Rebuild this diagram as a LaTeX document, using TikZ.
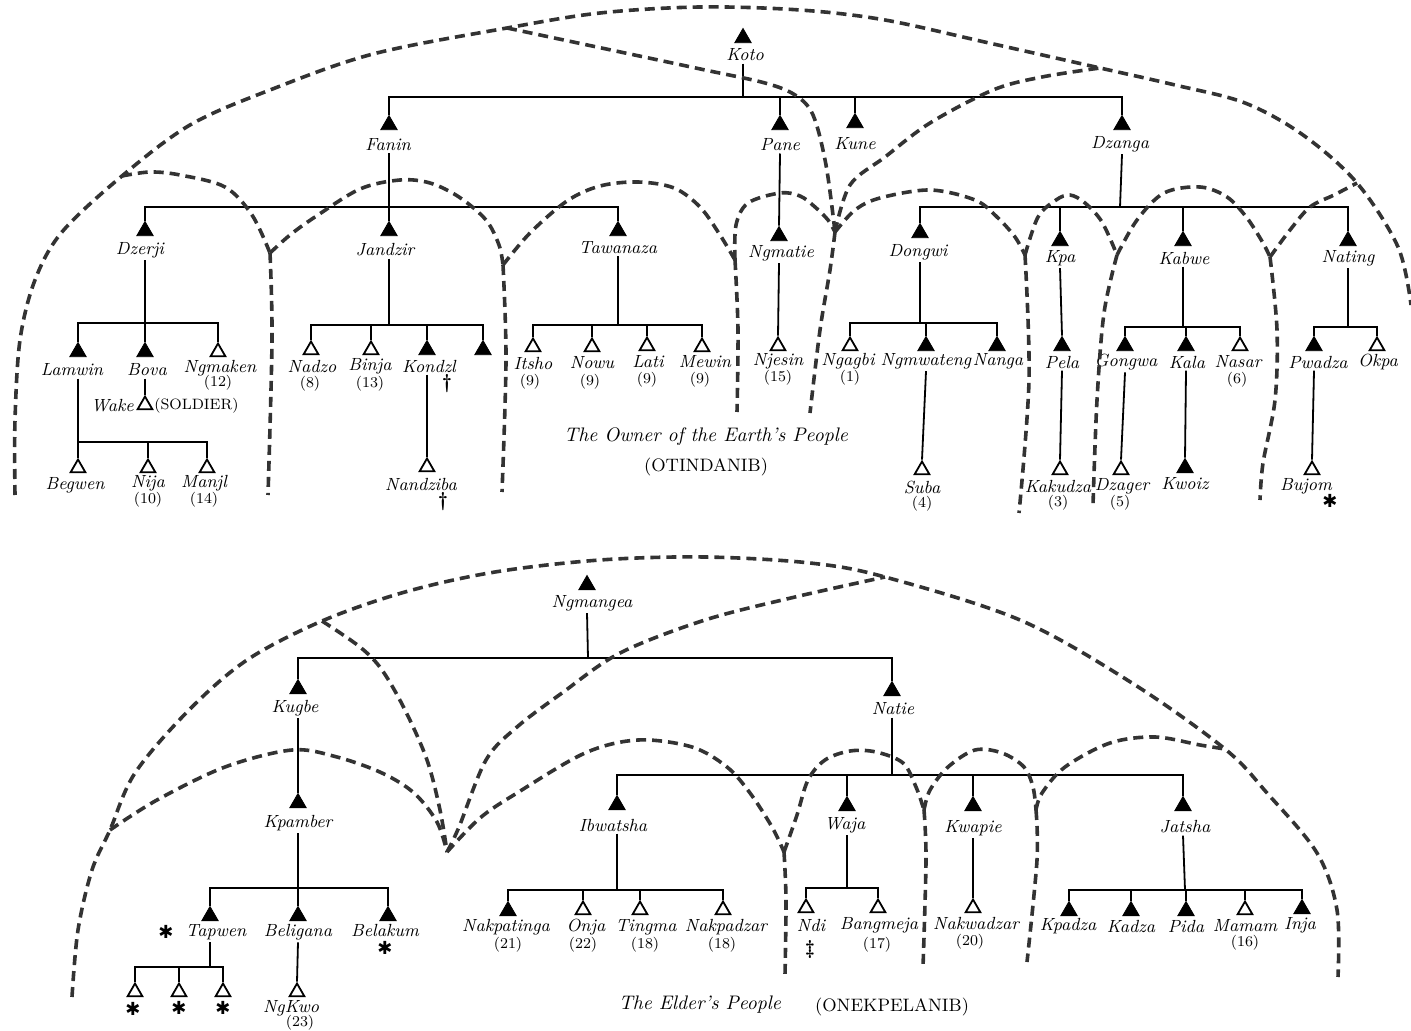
\documentclass[tikz,border=0pt]{standalone}
\usepackage{fontspec}
\usepackage{tikz}
\usetikzlibrary{shapes.geometric}
\newfontfamily\markfont{DejaVu Sans}
\tikzset{
    dead/.style = {regular polygon, regular polygon sides=3, draw=black, fill=black, inner sep=0pt, minimum size=9.5pt},
    alive/.style = {regular polygon, regular polygon sides=3, draw=black, fill=white, line width=0.9pt, inner sep=0pt, minimum size=8.5pt},
    pname/.style = {font=\fontsize{8.8}{10}\selectfont\itshape, inner sep=1pt},
    count/.style = {font=\fontsize{7.5}{8}\selectfont, inner sep=0.5pt},
    sym/.style = {font=\markfont\fontsize{9}{10}\selectfont, inner sep=0pt},
    cross/.style = {font=\fontsize{10}{11}\selectfont\bfseries, inner sep=0pt},
    descent/.style = {line width=0.9pt},
    kin/.style = {draw=black!80, line width=1.8pt, dash pattern=on 5pt off 3pt},
    caption/.style = {font=\fontsize{9.8}{12}\selectfont\itshape},
    tag/.style = {font=\fontsize{9}{10}\selectfont},
}

\begin{document}
\begin{tikzpicture}[x=0.5pt, y=-0.5pt]
\useasboundingbox (0,0) rectangle (1411,1031);

% ---------- The Owner of the Earth's People ----------
\node[dead] (koto) at (743,38) {};
\node[pname] (koto-n) at (745,55) {Koto};

\node[dead] (fanin) at (389,125) {};  \node[pname] (fanin-n) at (388,145) {Fanin};
\node[dead] (pane) at (780,125) {};   \node[pname] (pane-n) at (780,145) {Pane};
\node[dead] (kune) at (855,123) {};   \node[pname] (kune-n) at (855,144) {Kune};
\node[dead] (dzanga) at (1122,125) {}; \node[pname] (dzanga-n) at (1120,144) {Dzanga};

\node[dead] (dzerji) at (145,231) {};   \node[pname] (dzerji-n) at (140,250) {Dzerji};
\node[dead] (jandzir) at (389,231) {};  \node[pname] (jandzir-n) at (385,250) {Jandzir};
\node[dead] (tawanaza) at (618,231) {}; \node[pname] (tawanaza-n) at (618,248) {Tawanaza};
\node[dead] (ngmatie) at (779,236) {};  \node[pname] (ngmatie-n) at (781,253) {Ngmatie};
\node[dead] (dongwi) at (920,233) {};   \node[pname] (dongwi-n) at (918,252) {Dongwi};
\node[dead] (kpa) at (1060,241) {};     \node[pname] (kpa-n) at (1060,258) {Kpa};
\node[dead] (kabwe) at (1183,241) {};   \node[pname] (kabwe-n) at (1184,258) {Kabwe};
\node[dead] (nating) at (1348,241) {};  \node[pname] (nating-n) at (1348,258) {Nating};

\node[dead] (lamwin) at (78,352) {};   \node[pname] (lamwin-n) at (72,370) {Lamwin};
\node[dead] (bova) at (145,352) {};    \node[pname] (bova-n) at (147,370) {Bova};
\node[alive] (ngmaken) at (218,352) {}; \node[pname] (ngmaken-n) at (220,368) {Ngmaken};
\node[count] (ngmaken-c) at (218,383) {(12)};
\node[alive] (wake) at (145,405) {};
\node[pname, anchor=east] (wake-n) at (136,406) {Wake};
\node[count, anchor=west] (wake-c) at (153,406) {(SOLDIER)};
\node[alive] (begwen) at (78,468) {};  \node[pname] (begwen-n) at (75,485) {Begwen};
\node[alive] (nija) at (148,468) {};   \node[pname] (nija-n) at (148,483) {Nija};
\node[count] (nija-c) at (148,500) {(10)};
\node[alive] (manjl) at (207,468) {};  \node[pname] (manjl-n) at (204,483) {Manjl};
\node[count] (manjl-c) at (204,500) {(14)};

\node[alive] (nadzo) at (311,350) {};  \node[pname] (nadzo-n) at (312,366) {Nadzo};
\node[count] (nadzo-c) at (310,384) {(8)};
\node[alive] (binja) at (371,350) {};  \node[pname] (binja-n) at (370,366) {Binja};
\node[count] (binja-c) at (370,384) {(13)};
\node[dead] (kondzl) at (427,350) {};  \node[pname] (kondzl-n) at (429,366) {Kondzl};
\node[cross] (kondzl-d) at (447,384) {\textdagger};
\node[dead] (jandzir-4) at (483,350) {};
\node[alive] (nandziba) at (427,467) {}; \node[pname] (nandziba-n) at (421,484) {Nandziba};
\node[cross] (nandziba-d) at (443,502) {\textdagger};

\node[alive] (itsho) at (533,347) {};  \node[pname] (itsho-n) at (533,363) {Itsho};
\node[count] (itsho-c) at (530,382) {(9)};
\node[alive] (nowu) at (592,347) {};   \node[pname] (nowu-n) at (592,363) {Nowu};
\node[count] (nowu-c) at (590,382) {(9)};
\node[alive] (lati) at (647,346) {};   \node[pname] (lati-n) at (648,362) {Lati};
\node[count] (lati-c) at (647,380) {(9)};
\node[alive] (mewin) at (702,347) {};  \node[pname] (mewin-n) at (705,362) {Mewin};
\node[count] (mewin-c) at (700,380) {(9)};

\node[alive] (njesin) at (778,346) {}; \node[pname] (njesin-n) at (778,361) {Njesin};
\node[count] (njesin-c) at (778,378) {(15)};

\node[alive] (ngagbi) at (850,346) {};  \node[pname] (ngagbi-n) at (848,361) {Ngagbi};
\node[count] (ngagbi-c) at (850,378) {(1)};
\node[dead] (ngmwateng) at (926,346) {}; \node[pname] (ngmwateng-n) at (926,361) {Ngmwateng};
\node[dead] (nanga) at (997,346) {};    \node[pname] (nanga-n) at (998,361) {Nanga};
\node[alive] (suba) at (922,470) {};    \node[pname] (suba-n) at (922,487) {Suba};
\node[count] (suba-c) at (922,504) {(4)};

\node[dead] (pela) at (1062,346) {};    \node[pname] (pela-n) at (1062,362) {Pela};
\node[alive] (kakudza) at (1060,470) {}; \node[pname] (kakudza-n) at (1058,486) {Kakudza};
\node[count] (kakudza-c) at (1058,503) {(3)};

\node[dead] (gongwa) at (1125,346) {};  \node[pname] (gongwa-n) at (1126,362) {Gongwa};
\node[dead] (kala) at (1186,346) {};    \node[pname] (kala-n) at (1187,362) {Kala};
\node[alive] (nasar) at (1240,346) {};  \node[pname] (nasar-n) at (1238,362) {Nasar};
\node[count] (nasar-c) at (1237,380) {(6)};
\node[alive] (dzager) at (1121,470) {}; \node[pname] (dzager-n) at (1122,486) {Dzager};
\node[count] (dzager-c) at (1120,503) {(5)};
\node[dead] (kwoiz) at (1185,468) {};   \node[pname] (kwoiz-n) at (1185,484) {Kwoiz};

\node[dead] (pwadza) at (1314,346) {};  \node[pname] (pwadza-n) at (1318,362) {Pwadza};
\node[alive] (okpa) at (1377,346) {};   \node[pname] (okpa-n) at (1378,362) {Okpa};
\node[alive] (bujom) at (1312,470) {};  \node[pname] (bujom-n) at (1306,486) {Bujom};
\node[sym] (bujom-m) at (1330,501) {✱};

\node[caption] (otin-t) at (706,437) {The Owner of the Earth's People};
\node[tag] (otin) at (706,467) {(OTINDANIB)};

% descent lines
\coordinate (kotoBar) at (743,97);
\draw[descent] (koto |- koto-n.south) -- (kotoBar);
\draw[descent] (fanin.north) |- (kotoBar) -| (dzanga.north);
\draw[descent] (pane.north) -- (pane.north |- kotoBar);
\draw[descent] (kune.north) -- (kune.north |- kotoBar);

\coordinate (faninBar) at (389,207);
\draw[descent] (fanin |- fanin-n.south) -- (faninBar);
\draw[descent] (dzerji.north) |- (faninBar) -| (tawanaza.north);
\draw[descent] (jandzir.north) -- (jandzir.north |- faninBar);

\draw[descent] (pane |- pane-n.south) -- (ngmatie.north);
\draw[descent] (ngmatie |- ngmatie-n.south) -- (njesin.north);

\coordinate (dzangaBar) at (1120,207);
\draw[descent] (dzanga |- dzanga-n.south) -- (dzangaBar);
\draw[descent] (dongwi.north) |- (dzangaBar) -| (nating.north);
\draw[descent] (kpa.north) -- (kpa.north |- dzangaBar);
\draw[descent] (kabwe.north) -- (kabwe.north |- dzangaBar);

\coordinate (dzerjiBar) at (145,323);
\draw[descent] (dzerji |- dzerji-n.south) -- (dzerjiBar);
\draw[descent] (lamwin.north) |- (dzerjiBar) -| (ngmaken.north);
\draw[descent] (bova.north) -- (bova.north |- dzerjiBar);
\draw[descent] (bova |- bova-n.south) -- (wake.north);

\coordinate (lamwinBar) at (78,442);
\draw[descent] (lamwin |- lamwin-n.south) -- (lamwinBar);
\draw[descent] (begwen.north) |- (lamwinBar) -| (manjl.north);
\draw[descent] (nija.north) -- (nija.north |- lamwinBar);

\coordinate (jandzirBar) at (389,325);
\draw[descent] (jandzir |- jandzir-n.south) -- (jandzirBar);
\draw[descent] (nadzo.north) |- (jandzirBar) -| (jandzir-4.north);
\draw[descent] (binja.north) -- (binja.north |- jandzirBar);
\draw[descent] (kondzl.north) -- (kondzl.north |- jandzirBar);
\draw[descent] (kondzl |- kondzl-n.south) -- (nandziba.north);

\coordinate (tawanazaBar) at (618,325);
\draw[descent] (tawanaza |- tawanaza-n.south) -- (tawanazaBar);
\draw[descent] (itsho.north) |- (tawanazaBar) -| (mewin.north);
\draw[descent] (nowu.north) -- (nowu.north |- tawanazaBar);
\draw[descent] (lati.north) -- (lati.north |- tawanazaBar);

\coordinate (dongwiBar) at (920,323);
\draw[descent] (dongwi |- dongwi-n.south) -- (dongwiBar);
\draw[descent] (ngagbi.north) |- (dongwiBar) -| (nanga.north);
\draw[descent] (ngmwateng.north) -- (ngmwateng.north |- dongwiBar);
\draw[descent] (ngmwateng |- ngmwateng-n.south) -- (suba.north);

\draw[descent] (kpa |- kpa-n.south) -- (pela.north);
\draw[descent] (pela |- pela-n.south) -- (kakudza.north);

\coordinate (kabweBar) at (1183,327);
\draw[descent] (kabwe |- kabwe-n.south) -- (kabweBar);
\draw[descent] (gongwa.north) |- (kabweBar) -| (nasar.north);
\draw[descent] (kala.north) -- (kala.north |- kabweBar);
\draw[descent] (gongwa |- gongwa-n.south) -- (dzager.north);
\draw[descent] (kala |- kala-n.south) -- (kwoiz.north);

\coordinate (natingBar) at (1348,327);
\draw[descent] (nating |- nating-n.south) -- (natingBar);
\draw[descent] (pwadza.north) |- (natingBar) -| (okpa.north);
\draw[descent] (pwadza |- pwadza-n.south) -- (bujom.north);

% kin arcs
\coordinate (jA) at (122,176);
\coordinate (jB) at (507,28);
\coordinate (jC) at (270,253);
\coordinate (jD) at (503,265);
\coordinate (jE) at (735,260);
\coordinate (jF) at (835,232);
\coordinate (jG) at (1100,68);
\coordinate (jH) at (1025,255);
\coordinate (jI) at (1117,255);
\coordinate (jJ) at (1270,257);
\coordinate (jK) at (1357,183);
\draw[kin] plot[smooth, tension=0.55] coordinates {(15,495) (15,420) (20,340) (35,280) (62,232) (jA) (190,125) (270,90) (373,54) (jB) (600,13) (700,7) (800,10) (885,20) (989,43) (jG) (1175,85) (1245,103) (1303,135) (jK) (1398,247) (1411,305)};
\draw[kin] plot[smooth, tension=0.55] coordinates {(jB) (644,57) (705,70) (765,83) (795,95) (813,115) (826,165) (jF)};
\draw[kin] plot[smooth, tension=0.55] coordinates {(jF) (850,185) (885,157) (930,123) (993,90) (1042,77) (jG)};
\draw[kin] plot[smooth, tension=0.55] coordinates {(jA) (150,172) (180,175) (225,187) (252,215) (jC)};
\draw[kin] plot[smooth, tension=0.55] coordinates {(jC) (272,340) (268,495)};
\draw[kin] plot[smooth, tension=0.55] coordinates {(jC) (290,235) (315,217) (360,189) (400,180) (430,183) (459,197) (486,220) (499,245) (jD)};
\draw[kin] plot[smooth, tension=0.55] coordinates {(jD) (506,360) (502,492)};
\draw[kin] plot[smooth, tension=0.55] coordinates {(jD) (530,233) (567,201) (600,186) (638,182) (674,188) (700,207) (720,235) (jE)};
\draw[kin] plot[smooth, tension=0.55] coordinates {(jE) (736,225) (748,203) (780,193) (800,196) (815,207) (828,220) (jF)};
\draw[kin] plot[smooth, tension=0.55] coordinates {(jE) (738,330) (737,412)};
\draw[kin] plot[smooth, tension=0.55] coordinates {(jF) (830,270) (820,330) (810,413)};
\draw[kin] plot[smooth, tension=0.55] coordinates {(jF) (855,210) (880,198) (930,190) (975,200) (997,217) (1015,237) (jH)};
\draw[kin] plot[smooth, tension=0.55] coordinates {(jH) (1029,380) (1019,513)};
\draw[kin] plot[smooth, tension=0.55] coordinates {(jH) (1038,217) (1056,200) (1070,195) (1085,203) (1102,222) (jI)};
\draw[kin] plot[smooth, tension=0.55] coordinates {(jI) (1104,313) (1097,400) (1093,505)};
\draw[kin] plot[smooth, tension=0.55] coordinates {(jI) (1137,220) (1164,193) (1200,187) (1227,197) (1247,218) (1263,243) (jJ)};
\draw[kin] plot[smooth, tension=0.55] coordinates {(jJ) (1277,330) (1275,400) (1263,463) (1260,500)};
\draw[kin] plot[smooth, tension=0.55] coordinates {(jJ) (1290,230) (1310,207) (1334,195) (jK)};

% ---------- The Elder's People ----------
\node[dead] (ngmangea) at (587,585) {}; \node[pname] (ngmangea-n) at (592,603) {Ngmangea};
\node[dead] (kugbe) at (298,689) {};    \node[pname] (kugbe-n) at (295,708) {Kugbe};
\node[dead] (natie) at (892,691) {};    \node[pname] (natie-n) at (893,709) {Natie};
\node[dead] (kpamber) at (298,803) {};  \node[pname] (kpamber-n) at (298,823) {Kpamber};

\node[dead] (tapwen) at (210,916) {};   \node[pname] (tapwen-n) at (216,932) {Tapwen};
\node[sym] (tapwen-m) at (166,932) {✱};
\node[dead] (beligana) at (298,916) {}; \node[pname] (beligana-n) at (298,932) {Beligana};
\node[dead] (belakum) at (388,916) {};  \node[pname] (belakum-n) at (385,930) {Belakum};
\node[sym] (belakum-m) at (385,948) {✱};
\node[alive] (tapwen-1) at (135,992) {}; \node[sym] (tapwen-1m) at (133,1009) {✱};
\node[alive] (tapwen-2) at (179,992) {}; \node[sym] (tapwen-2m) at (179,1008) {✱};
\node[alive] (tapwen-3) at (223,992) {}; \node[sym] (tapwen-3m) at (223,1008) {✱};
\node[alive] (ngkwo) at (297,992) {};   \node[pname] (ngkwo-n) at (291,1008) {NgKwo};
\node[count] (ngkwo-c) at (300,1023) {(23)};

\node[dead] (ibwatsha) at (617,805) {}; \node[pname] (ibwatsha-n) at (613,825) {Ibwatsha};
\node[dead] (waja) at (847,806) {};     \node[pname] (waja-n) at (845,825) {Waja};
\node[dead] (kwapie) at (973,806) {};   \node[pname] (kwapie-n) at (973,828) {Kwapie};
\node[dead] (jatsha) at (1183,806) {};  \node[pname] (jatsha-n) at (1185,827) {Jatsha};

\node[dead] (nakpatinga) at (508,911) {}; \node[pname] (nakpatinga-n) at (506,927) {Nakpatinga};
\node[count] (nakpatinga-c) at (508,945) {(21)};
\node[alive] (onja) at (583,910) {};    \node[pname] (onja-n) at (586,927) {Onja};
\node[count] (onja-c) at (583,945) {(22)};
\node[alive] (tingma) at (640,910) {};  \node[pname] (tingma-n) at (646,927) {Tingma};
\node[count] (tingma-c) at (645,945) {(18)};
\node[alive] (nakpadzar) at (723,910) {}; \node[pname] (nakpadzar-n) at (726,927) {Nakpadzar};
\node[count] (nakpadzar-c) at (722,945) {(18)};

\node[alive] (ndi) at (806,908) {};     \node[pname] (ndi-n) at (811,925) {Ndi};
\node[cross] (ndi-m) at (810,949) {\textdaggerdbl};
\node[alive] (bangmeja) at (878,908) {}; \node[pname] (bangmeja-n) at (879,925) {Bangmeja};
\node[count] (bangmeja-c) at (877,945) {(17)};
\node[alive] (nakwadzar) at (973,908) {}; \node[pname] (nakwadzar-n) at (976,923) {Nakwadzar};
\node[count] (nakwadzar-c) at (970,942) {(20)};

\node[dead] (kpadza) at (1069,911) {};  \node[pname] (kpadza-n) at (1068,926) {Kpadza};
\node[dead] (kadza) at (1131,911) {};   \node[pname] (kadza-n) at (1131,926) {Kadza};
\node[dead] (pida) at (1186,911) {};    \node[pname] (pida-n) at (1186,926) {Pida};
\node[alive] (mamam) at (1245,910) {};  \node[pname] (mamam-n) at (1245,926) {Mamam};
\node[count] (mamam-c) at (1245,943) {(16)};
\node[dead] (inja) at (1302,909) {};    \node[pname] (inja-n) at (1300,925) {Inja};

\node[caption, anchor=east] (onek-t) at (788,1005) {The Elder's People};
\node[tag, anchor=west] (onek) at (808,1007) {(ONEKPELANIB)};

% descent lines
\coordinate (ngmangeaBar) at (588,658);
\draw[descent] (ngmangea |- ngmangea-n.south) -- (ngmangeaBar);
\draw[descent] (kugbe.north) |- (ngmangeaBar) -| (natie.north);
\draw[descent] (kugbe |- kugbe-n.south) -- (kpamber.north);

\coordinate (kpamberBar) at (298,888);
\draw[descent] (kpamber |- kpamber-n.south) -- (kpamberBar);
\draw[descent] (tapwen.north) |- (kpamberBar) -| (belakum.north);
\draw[descent] (beligana.north) -- (beligana.north |- kpamberBar);
\draw[descent] (beligana |- beligana-n.south) -- (ngkwo.north);

\coordinate (tapwenBar) at (210,967);
\draw[descent] (tapwen |- tapwen-n.south) -- (tapwenBar);
\draw[descent] (tapwen-1.north) |- (tapwenBar) -| (tapwen-3.north);
\draw[descent] (tapwen-2.north) -- (tapwen-2.north |- tapwenBar);

\coordinate (natieBar) at (892,775);
\draw[descent] (natie |- natie-n.south) -- (natieBar);
\draw[descent] (ibwatsha.north) |- (natieBar) -| (jatsha.north);
\draw[descent] (waja.north) -- (waja.north |- natieBar);
\draw[descent] (kwapie.north) -- (kwapie.north |- natieBar);

\coordinate (ibwatshaBar) at (617,890);
\draw[descent] (ibwatsha |- ibwatsha-n.south) -- (ibwatshaBar);
\draw[descent] (nakpatinga.north) |- (ibwatshaBar) -| (nakpadzar.north);
\draw[descent] (onja.north) -- (onja.north |- ibwatshaBar);
\draw[descent] (tingma.north) -- (tingma.north |- ibwatshaBar);

\coordinate (wajaBar) at (847,888);
\draw[descent] (waja |- waja-n.south) -- (wajaBar);
\draw[descent] (ndi.north) |- (wajaBar) -| (bangmeja.north);

\draw[descent] (kwapie |- kwapie-n.south) -- (nakwadzar.north);

\coordinate (jatshaBar) at (1185,890);
\draw[descent] (jatsha |- jatsha-n.south) -- (jatshaBar);
\draw[descent] (kpadza.north) |- (jatshaBar) -| (inja.north);
\draw[descent] (kadza.north) -- (kadza.north |- jatshaBar);
\draw[descent] (pida.north) -- (pida.north |- jatshaBar);
\draw[descent] (mamam.north) -- (mamam.north |- jatshaBar);

% kin arcs
\coordinate (kA) at (110,830);
\coordinate (kB) at (322,621);
\coordinate (kC) at (447,852);
\coordinate (kD) at (885,577);
\coordinate (kE) at (784,852);
\coordinate (kF) at (924,810);
\coordinate (kG) at (1036,810);
\coordinate (kH) at (1225,749);
\draw[kin] plot[smooth, tension=0.55] coordinates {(72,997) (78,930) (92,870) (kA) (135,773) (189,710) (247,660) (kB) (405,592) (495,572) (600,560) (705,557) (810,563) (kD) (1020,620) (1132,683) (kH) (1267,793) (1317,853) (1337,910) (1338,977)};
\draw[kin] plot[smooth, tension=0.55] coordinates {(kB) (360,647) (382,670) (405,710) (427,760) (440,810) (kC)};
\draw[kin] plot[smooth, tension=0.55] coordinates {(kA) (157,800) (225,767) (292,750) (337,757) (382,773) (414,793) (437,822) (kC)};
\draw[kin] plot[smooth, tension=0.55] coordinates {(kC) (459,827) (486,760) (517,727) (562,693) (620,653) (705,620) (795,597) (kD)};
\draw[kin] plot[smooth, tension=0.55] coordinates {(kC) (480,818) (517,793) (585,753) (638,740) (692,747) (727,767) (750,793) (772,827) (kE)};
\draw[kin] plot[smooth, tension=0.55] coordinates {(kE) (786,900) (785,975)};
\draw[kin] plot[smooth, tension=0.55] coordinates {(kE) (797,815) (808,780) (825,760) (850,751) (876,752) (903,763) (916,787) (kF)};
\draw[kin] plot[smooth, tension=0.55] coordinates {(kF) (926,860) (923,967)};
\draw[kin] plot[smooth, tension=0.55] coordinates {(kF) (930,790) (948,767) (975,750) (1002,753) (1024,767) (1033,787) (kG)};
\draw[kin] plot[smooth, tension=0.55] coordinates {(kG) (1037,860) (1027,962)};
\draw[kin] plot[smooth, tension=0.55] coordinates {(kG) (1042,793) (1065,767) (1110,743) (1155,737) (1200,745) (kH)};
\end{tikzpicture}
\end{document}
